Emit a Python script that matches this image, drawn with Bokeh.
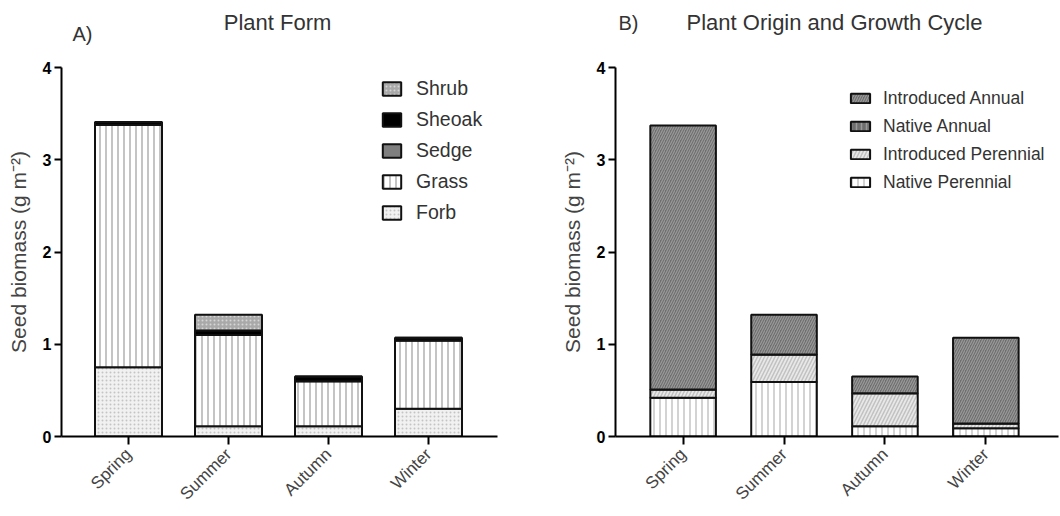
import numpy as np
from bokeh.plotting import figure
from bokeh.models import (ColumnDataSource, Range1d, FixedTicker, Legend, LegendItem, Label)
from bokeh.layouts import row, column
from bokeh.embed import file_html
from bokeh.resources import INLINE

# ---------------- data ----------------
seasons = ["Spring", "Summer", "Autumn", "Winter"]
y_ticks = [0, 1, 2, 3, 4]

# Panel A: plant form (stack order bottom -> top)
forb = [0.75, 0.11, 0.11, 0.30]
grass = [2.63, 0.99, 0.49, 0.74]
sedge = [0.0, 0.0, 0.0, 0.0]
sheoak = [0.03, 0.05, 0.05, 0.03]
shrub = [0.0, 0.17, 0.0, 0.0]

# Panel B: origin and growth cycle (stack order bottom -> top)
native_perennial = [0.42, 0.59, 0.11, 0.09]
introduced_perennial = [0.09, 0.30, 0.36, 0.05]
native_annual = [0.0, 0.0, 0.0, 0.0]
introduced_annual = [2.86, 0.43, 0.18, 0.93]

FONT = "Liberation Sans"
TXT = "#333333"
HEAD_H = 50

x = list(range(len(seasons)))


def make_header(items):
    h = figure(width=530, height=HEAD_H, output_backend="svg", toolbar_location=None,
               x_range=Range1d(0, 530), y_range=Range1d(HEAD_H, 0),
               x_axis_location=None, y_axis_location=None,
               min_border_left=0, min_border_right=0, min_border_top=0, min_border_bottom=0)
    h.outline_line_color = None
    h.grid.visible = False
    for text, px, py, size in items:
        h.add_layout(Label(x=px, y=py, text=text, text_align="center", text_baseline="middle",
                           text_font=FONT, text_font_size=size, text_color=TXT))
    return h


def make_fig(x_end, bl, br, bt, bb):
    p = figure(width=530, height=516 - HEAD_H, output_backend="svg", toolbar_location=None,
               x_range=Range1d(-0.67, x_end), y_range=Range1d(0, 4),
               min_border_left=bl, min_border_right=br, min_border_top=bt, min_border_bottom=bb)
    p.outline_line_color = None
    p.xgrid.visible = False
    p.ygrid.visible = False
    xa = p.xaxis[0]
    xa.ticker = FixedTicker(ticks=x)
    xa.major_label_overrides = {i: s for i, s in enumerate(seasons)}
    xa.major_label_orientation = np.pi / 4
    xa.major_label_text_font = FONT
    xa.major_label_text_font_size = "17px"
    xa.major_label_text_color = "#444444"
    xa.major_tick_out = 8
    xa.major_tick_in = 0
    xa.minor_tick_out = 0
    xa.minor_tick_in = 0
    xa.axis_line_width = 2
    xa.major_tick_line_width = 2
    xa.major_label_standoff = 7
    ya = p.yaxis[0]
    ya.ticker = FixedTicker(ticks=y_ticks)
    ya.major_tick_out = 7
    ya.major_tick_in = 0
    ya.minor_tick_out = 0
    ya.minor_tick_in = 0
    ya.axis_line_width = 2
    ya.major_tick_line_width = 2
    ya.major_label_text_font = FONT
    ya.major_label_text_font_style = "bold"
    ya.major_label_text_font_size = "16px"
    ya.major_label_text_color = "black"
    ya.major_label_standoff = 3
    ya.axis_label = "Seed biomass (g m\u207b\u00b2)"
    ya.axis_label_text_font = FONT
    ya.axis_label_text_font_style = "normal"
    ya.axis_label_text_font_size = "21px"
    ya.axis_label_text_color = "#444444"
    ya.axis_label_standoff = 10
    return p


def stack(p, layers, width):
    bottoms = np.zeros(len(x))
    rends = []
    for vals, style in layers:
        vals = np.array(vals, dtype=float)
        src = ColumnDataSource(dict(x=x, bottom=bottoms.copy(), top=bottoms + vals))
        r = p.vbar(x="x", bottom="bottom", top="top", width=width, source=src,
                   line_color="#111111", line_width=2, **style)
        rends.append(r)
        bottoms = bottoms + vals
    return rends


# ---------------- Panel A ----------------
hA = make_header([("Plant Form", 277, 22, "22px"), ("A)", 82, 33, "20px")])
pA = make_fig(3.69, 61, 33, 67 - HEAD_H, 80)
styles_A = [
    dict(fill_color="#f1f1f1", hatch_pattern=".", hatch_color="#c4c4c4", hatch_scale=4, hatch_weight=1),
    dict(fill_color="white", hatch_pattern="|", hatch_color="#b0b0b0", hatch_scale=6, hatch_weight=1.5),
    dict(fill_color="#7f7f7f"),
    dict(fill_color="black"),
    dict(fill_color="#a9a9a9", hatch_pattern=".", hatch_color="#d6d6d6", hatch_scale=4, hatch_weight=1),
]
rA = stack(pA, list(zip([forb, grass, sedge, sheoak, shrub], styles_A)), 0.67)
namesA = ["Forb", "Grass", "Sedge", "Sheoak", "Shrub"]
legA = Legend(items=[LegendItem(label=n, renderers=[r]) for n, r in reversed(list(zip(namesA, rA)))],
              location=(319, 208), orientation="vertical", padding=0, margin=0, spacing=0,
              label_height=31, glyph_height=17, glyph_width=23, label_standoff=13,
              label_text_font=FONT, label_text_font_size="19.5px", label_text_color=TXT,
              border_line_color=None, background_fill_alpha=0)
pA.add_layout(legA)

# ---------------- Panel B ----------------
hB = make_header([("Plant Origin and Growth Cycle", 834 - 530, 22, "22px"), ("B)", 628 - 530, 22, "20px")])
pB = make_fig(3.72, 85, 2, 64 - HEAD_H, 79)
styles_B = [
    dict(fill_color="white", hatch_pattern="|", hatch_color="#c4c4c4", hatch_scale=6, hatch_weight=1.5),
    dict(fill_color="#e8e8e8", hatch_pattern="/", hatch_color="#c2c2c2", hatch_scale=7, hatch_weight=1.5),
    dict(fill_color="#6e6e6e", hatch_pattern="|", hatch_color="#9a9a9a", hatch_scale=5, hatch_weight=1.5),
    dict(fill_color="#6e6e6e", hatch_pattern="/", hatch_color="#9a9a9a", hatch_scale=5, hatch_weight=1.2),
]
rB = stack(pB, list(zip([native_perennial, introduced_perennial, native_annual, introduced_annual], styles_B)), 0.65)
namesB = ["Native Perennial", "Introduced Perennial", "Native Annual", "Introduced Annual"]
legB = Legend(items=[LegendItem(label=n, renderers=[r]) for n, r in reversed(list(zip(namesB, rB)))],
              location=(233, 240), orientation="vertical", padding=0, margin=0, spacing=0,
              label_height=28, glyph_height=12, glyph_width=24, label_standoff=11,
              label_text_font=FONT, label_text_font_size="17.5px", label_text_color=TXT,
              border_line_color=None, background_fill_alpha=0)
pB.add_layout(legB)

layout = column(row(hA, hB), row(pA, pB))
open("out.html", "w").write(file_html(layout, INLINE))
